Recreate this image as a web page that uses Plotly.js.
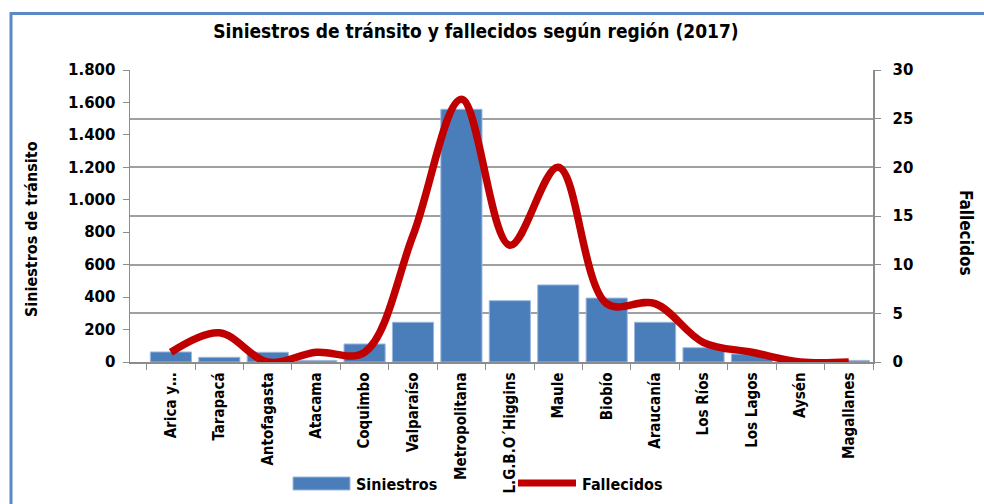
<!DOCTYPE html>
<html>
<head>
<meta charset="utf-8">
<script src="https://cdn.plot.ly/plotly-3.0.1.min.js"></script>
<style>
html,body{margin:0;padding:0;background:#fff;}
#chart{width:984px;height:504px;}
</style>
</head>
<body>
<div id="chart"></div>
<script>
const regiones = ["Arica y…","Tarapacá","Antofagasta","Atacama","Coquimbo","Valparaíso","Metropolitana","L.G.B.O´Higgins","Maule","Biobío","Araucanía","Los Ríos","Los Lagos","Aysén","Magallanes"];
const siniestros = [62, 29, 60, 10, 111, 245, 1558, 378, 475, 394, 245, 88, 49, 4, 10];
const fallecidos = [1, 3, 0, 1, 1, 13, 27, 12, 20, 6, 6, 2, 1, 0, 0];
const legendLabels = ["Siniestros", "Fallecidos"];

const boldFamily = "Liberation Sans Narrow, DejaVu Sans Condensed, Arial Narrow, sans-serif";
const tickFamily = "DejaVu Sans, Verdana, sans-serif";
const barColor = "#4A7EBB";
const lineColor = "#C00000";

const L = 130, R = 873, T = 70, B = 362;
const px2x = p => (p - L) / (R - L);
const px2y = p => (B - p) / (B - T);

const data = [
  {
    type: "bar", name: legendLabels[0], x: regiones, y: siniestros,
    marker: {color: barColor, line: {color: "#9DB8DC", width: 1}},
    yaxis: "y", showlegend: false
  },
  {
    type: "scatter", mode: "lines", name: legendLabels[1], x: regiones, y: fallecidos,
    line: {color: lineColor, width: 7.5, shape: "spline", smoothing: 1},
    yaxis: "y2", showlegend: false
  },
  {type: "scatter", x: [regiones[0]], y: [null], yaxis: "y3", showlegend: false, hoverinfo: "skip"}
];

const layout = {
  width: 984, height: 504,
  margin: {l: L, r: 984 - R, t: T, b: 504 - B},
  paper_bgcolor: "#fff", plot_bgcolor: "rgba(0,0,0,0)",
  separators: ",.",
  bargap: 0.15,
  showlegend: false,
  title: {
    text: "<b>Siniestros de tránsito y fallecidos según región (2017)</b>",
    font: {family: boldFamily, size: 19, color: "#000"},
    xref: "paper", x: px2x(476), xanchor: "center",
    yref: "container", y: 1 - 31/504, yanchor: "middle"
  },
  xaxis: {
    type: "category", automargin: false,
    tickangle: -90,
    tickfont: {family: "DejaVu Sans Condensed, DejaVu Sans, sans-serif", size: 15, color: "#000", weight: "bold"},
    showline: true, linecolor: "#8C8C8C", linewidth: 1.5,
    ticks: "outside", ticklen: 6, tickcolor: "#8C8C8C", tickson: "boundaries",
    ticklabelstandoff: 3,
    showgrid: false, zeroline: false, fixedrange: true
  },
  yaxis: {
    automargin: false,
    range: [0, 1800], dtick: 200, tickformat: ",d",
    tickfont: {family: tickFamily, size: 15, color: "#000", weight: "bold"},
    showline: true, linecolor: "#8C8C8C", linewidth: 1.5,
    ticks: "outside", ticklen: 6, tickcolor: "#8C8C8C",
    ticklabelstandoff: 4,
    showgrid: false, zeroline: false
  },
  yaxis2: {
    automargin: false,
    overlaying: "y", side: "right",
    range: [0, 30], dtick: 5,
    tickfont: {family: tickFamily, size: 15, color: "#000", weight: "bold"},
    showline: true, linecolor: "#8C8C8C", linewidth: 1.5,
    ticks: "outside", ticklen: 6, tickcolor: "#8C8C8C",
    ticklabelstandoff: 9,
    showgrid: false, zeroline: false
  },
  yaxis3: {
    automargin: false,
    overlaying: "y", side: "right", range: [0, 30],
    tickvals: [5, 10, 15, 20, 25], showticklabels: false, ticks: "",
    showgrid: true, gridcolor: "#A0A0A0", gridwidth: 2,
    showline: false, zeroline: false
  },
  annotations: [
    {
      text: "<b>Siniestros de tránsito</b>", textangle: -90,
      xref: "paper", yref: "paper", x: px2x(31), y: px2y(229),
      xanchor: "center", yanchor: "middle", showarrow: false,
      font: {family: boldFamily, size: 16, color: "#000"}
    },
    {
      text: "<b>Fallecidos</b>", textangle: 90,
      xref: "paper", yref: "paper", x: px2x(966), y: px2y(233),
      xanchor: "center", yanchor: "middle", showarrow: false,
      font: {family: boldFamily, size: 17, color: "#000"}
    },
    {
      text: "<b>" + legendLabels[0] + "</b>",
      xref: "paper", yref: "paper", x: px2x(354), y: px2y(484),
      xanchor: "left", yanchor: "middle", showarrow: false,
      font: {family: boldFamily, size: 16, color: "#000"}
    },
    {
      text: "<b>" + legendLabels[1] + "</b>",
      xref: "paper", yref: "paper", x: px2x(580), y: px2y(484),
      xanchor: "left", yanchor: "middle", showarrow: false,
      font: {family: boldFamily, size: 16, color: "#000"}
    }
  ],
  shapes: [
    {
      type: "rect", xref: "paper", yref: "paper",
      x0: px2x(11), x1: px2x(1000), y0: px2y(520), y1: px2y(13.5),
      line: {color: "#5A8AC6", width: 3}, fillcolor: "rgba(0,0,0,0)", layer: "below"
    },
    {
      type: "rect", xref: "paper", yref: "paper",
      x0: px2x(293), x1: px2x(350), y0: px2y(490), y1: px2y(477),
      line: {color: "#9DB8DC", width: 1}, fillcolor: barColor
    },
    {
      type: "line", xref: "paper", yref: "paper",
      x0: px2x(518), x1: px2x(576), y0: px2y(483), y1: px2y(483),
      line: {color: lineColor, width: 7}
    }
  ]
};

Plotly.newPlot("chart", data, layout, {staticPlot: true, displayModeBar: false});
</script>
</body>
</html>
